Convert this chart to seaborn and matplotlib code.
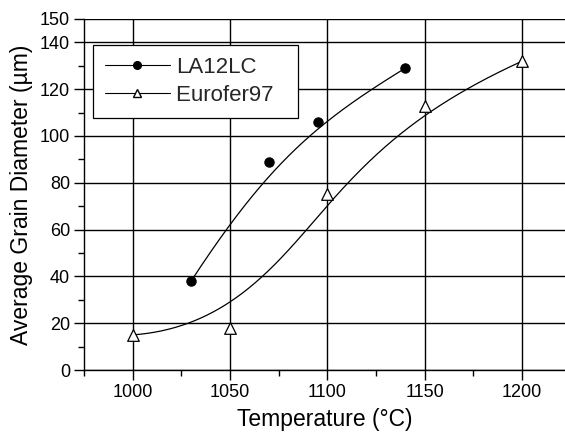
import numpy as np
import pandas as pd
import seaborn as sns
import matplotlib
matplotlib.use("Agg")
import matplotlib.pyplot as plt
from matplotlib.lines import Line2D
from matplotlib.ticker import FixedLocator

# ---- data ----
la_temp = [1030, 1070, 1095, 1140]
la_diam = [38, 89, 106, 129]
eu_temp = [1000, 1050, 1100, 1150, 1200]
eu_diam = [15, 18, 75, 113, 132]

x_ticks = [1000, 1050, 1100, 1150, 1200]
y_ticks = [0, 20, 40, 60, 80, 100, 120, 140, 150]


def clamped_bspline(px, py, n=300, k=3):
    """Clamped B-spline using the data points as control points (Origin-style B-spline)."""
    P = np.column_stack([px, py]).astype(float)
    m = len(P)
    k = min(k, m - 1)
    n_inner = m - k - 1
    knots = np.concatenate([np.zeros(k + 1),
                            np.linspace(0, 1, n_inner + 2)[1:-1],
                            np.ones(k + 1)])
    u = np.linspace(0, 1, n)
    u[-1] = 1 - 1e-12

    def basis(i, p, uu):
        if p == 0:
            return np.where((knots[i] <= uu) & (uu < knots[i + 1]), 1.0, 0.0)
        left = 0.0
        right = 0.0
        d1 = knots[i + p] - knots[i]
        d2 = knots[i + p + 1] - knots[i + 1]
        if d1 > 0:
            left = (uu - knots[i]) / d1 * basis(i, p - 1, uu)
        if d2 > 0:
            right = (knots[i + p + 1] - uu) / d2 * basis(i + 1, p - 1, uu)
        return left + right

    B = np.column_stack([basis(i, k, u) for i in range(m)])
    C = B @ P
    return C[:, 0], C[:, 1]


sns.set_theme(style="white")
plt.rcParams['font.family'] = ['Liberation Sans', 'DejaVu Sans']

fig = plt.figure(figsize=(5.65, 4.36), dpi=100)
ax = fig.add_axes([84 / 565, 66 / 436, 481 / 565, 351 / 436])

la_cx, la_cy = clamped_bspline(la_temp, la_diam)
eu_cx, eu_cy = clamped_bspline(eu_temp, eu_diam)

sns.lineplot(x=la_cx, y=la_cy, sort=False, ax=ax, color="black", lw=0.9, estimator=None)
sns.lineplot(x=eu_cx, y=eu_cy, sort=False, ax=ax, color="black", lw=0.9, estimator=None)

sns.scatterplot(x=la_temp, y=la_diam, ax=ax, marker="o", s=45, color="black",
                edgecolor="black", linewidth=0.8, zorder=5)
sns.scatterplot(x=eu_temp, y=eu_diam, ax=ax, marker="^", s=70, facecolor="white",
                edgecolor="black", linewidth=0.9, zorder=5)

ax.set_xlim(975, 1222)
ax.set_ylim(0, 150)
ax.xaxis.set_major_locator(FixedLocator(x_ticks))
ax.xaxis.set_minor_locator(FixedLocator([975, 1025, 1075, 1125, 1175]))
ax.yaxis.set_major_locator(FixedLocator(y_ticks))
ax.yaxis.set_minor_locator(FixedLocator([10, 30, 50, 70, 90, 110, 130]))

ax.grid(True, which="major", color="black", lw=1.0)
ax.set_axisbelow(True)
for s in ["top", "right"]:
    ax.spines[s].set_visible(False)
for s in ["left", "bottom"]:
    ax.spines[s].set_color("black")
    ax.spines[s].set_linewidth(1.0)

ax.tick_params(which="major", direction="out", length=7, width=1, color="black",
               labelsize=13, labelcolor="black", left=True, bottom=True, pad=3)
ax.tick_params(which="minor", direction="out", length=4, width=1, color="black",
               left=True, bottom=True)

ax.set_xlabel("Temperature (°C)", fontsize=16.5, color="black", labelpad=5)
ax.set_ylabel("Average Grain Diameter (µm)", fontsize=16.5, color="black", labelpad=5)

handles = [
    Line2D([], [], color="black", lw=0.8, marker="o", markersize=5.5,
           markerfacecolor="black", markeredgecolor="black"),
    Line2D([], [], color="black", lw=0.8, marker="^", markersize=6,
           markerfacecolor="white", markeredgecolor="black"),
]
leg = ax.legend(handles, ["LA12LC", "Eurofer97  "], loc="upper left",
                bbox_to_anchor=(9 / 481, 1 - 26 / 351), frameon=True, fancybox=False,
                edgecolor="black", framealpha=1, fontsize=16, handlelength=2.9,
                borderpad=0.55, labelspacing=0.3, handletextpad=0.3, borderaxespad=0)
leg.get_frame().set_linewidth(0.9)

fig.savefig("out.png", dpi=100)
